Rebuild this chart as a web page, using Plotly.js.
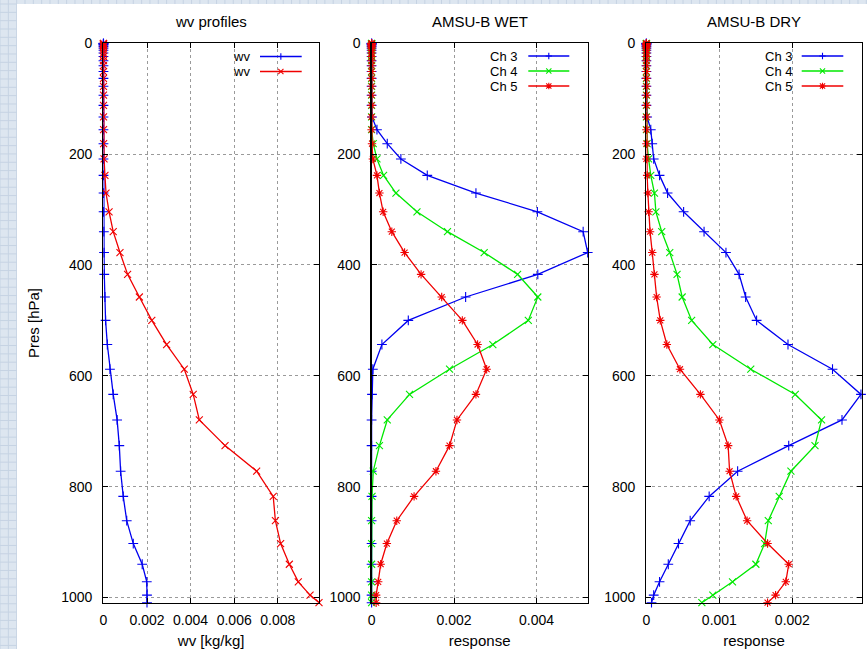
<!DOCTYPE html>
<html><head><meta charset="utf-8">
<script src="https://cdn.plot.ly/plotly-3.0.1.min.js"></script>
<style>html,body{margin:0;padding:0;background:#fff}#chart{width:867px;height:649px}</style>
</head><body><div id="chart"></div>
<script>
// pressure (layer mid-points, hPa)
const pressure = [0.2, 0.49, 1.06, 2.02, 3.51, 5.68, 8.66, 12.59, 17.61, 23.83, 31.39, 40.4, 51.01, 63.35, 77.58, 93.62, 112.05, 132.94, 155.9, 181.16, 208.65, 238.33, 270.16, 304.05, 339.89, 377.55, 416.88, 457.75, 500.0, 543.5, 588.07, 633.52, 679.58, 725.93, 772.11, 817.52, 861.38, 902.63, 939.95, 971.66, 995.66, 1009.34];

// panel 1: wv profiles [kg/kg]
const wvBlue = [0.000003, 0.000003, 0.000003, 0.000003, 0.000003, 0.000003, 0.000003, 0.000003, 0.000003, 0.000003, 0.000003, 0.000003, 0.000003, 0.000003, 0.000003, 0.000003, 0.000003, 0.000003, 0.000003, 0.000003, 0.000004, 0.000006, 0.000008, 0.00001, 0.00002, 0.00003, 0.00004, 0.00007, 0.0001, 0.00018, 0.0003, 0.00045, 0.00063, 0.00073, 0.00079, 0.00091, 0.00107, 0.00137, 0.00178, 0.00199, 0.002, 0.002];
const wvRed = [0.000003, 0.000003, 0.000003, 0.000003, 0.000003, 0.000003, 0.000003, 0.000003, 0.000003, 0.000003, 0.000003, 0.000003, 0.000003, 0.000003, 0.000003, 0.000004, 0.000005, 0.000006, 0.000008, 0.00001, 0.00003, 0.00007, 0.00012, 0.00026, 0.00045, 0.00076, 0.00111, 0.00165, 0.00222, 0.0029, 0.00371, 0.00412, 0.0044, 0.00558, 0.00703, 0.00779, 0.00789, 0.00813, 0.00853, 0.00894, 0.00948, 0.00989];

// panel 2: AMSU-B WET responses
const wetCh3 = [0, 0, 0, 0, 0, 0, 0, 0, 0, 0, 0, 0, 0, 0, 0, 0, 0, 0.00001, 0.00013, 0.00038, 0.00071, 0.00135, 0.00253, 0.00402, 0.00513, 0.00524, 0.00403, 0.00228, 0.00089, 0.00025, 0.00003, 0.00001, 0, 0, 0, 0, 0, 0, 0, 0, 0, 0];
const wetCh4 = [0, 0, 0, 0, 0, 0, 0, 0, 0, 0, 0, 0, 0, 0, 0, 0, 0, 0, 0, 0.00004, 0.00013, 0.00029, 0.00059, 0.0011, 0.00184, 0.00273, 0.00354, 0.00403, 0.0038, 0.00294, 0.00189, 0.00092, 0.00038, 0.00019, 0.00004, 0.00001, 0, 0, 0, 0, 0, 0];
const wetCh5 = [0, 0, 0, 0, 0, 0, 0, 0, 0, 0, 0, 0, 0, 0, 0, 0, 0, 0, 0, 0.00001, 0.00003, 0.00013, 0.00019, 0.00028, 0.00049, 0.0008, 0.0012, 0.0017, 0.0022, 0.00257, 0.00279, 0.00253, 0.00207, 0.00189, 0.00156, 0.00103, 0.00061, 0.00037, 0.00022, 0.00016, 0.00011, 0.00011];

// panel 3: AMSU-B DRY responses
const dryCh3 = [0, 0, 0, 0, 0, 0, 0, 0, 0, 0, 0, 0, 0, 0, 0, 0, 0, 0.00001, 0.00006, 0.00008, 0.0001, 0.00018, 0.00029, 0.00051, 0.00079, 0.00109, 0.00127, 0.00136, 0.00151, 0.00194, 0.00255, 0.00294, 0.00268, 0.00195, 0.00125, 0.00086, 0.0006, 0.00044, 0.0003, 0.00018, 0.0001, 0.00007];
const dryCh4 = [0, 0, 0, 0, 0, 0, 0, 0, 0, 0, 0, 0, 0, 0, 0, 0, 0, 0, 0, 0.00001, 0.00003, 0.00006, 0.00011, 0.00013, 0.00021, 0.00032, 0.00042, 0.00049, 0.00062, 0.00091, 0.00143, 0.00204, 0.0024, 0.00231, 0.00198, 0.00182, 0.00167, 0.00162, 0.0015, 0.00118, 0.00091, 0.00076];
const dryCh5 = [0, 0, 0, 0, 0, 0, 0, 0, 0, 0, 0, 0, 0, 0, 0, 0, 0, 0, 0, 0, 0, 0.00001, 0.00002, 0.00003, 0.00005, 0.00008, 0.00011, 0.00014, 0.00019, 0.00028, 0.00046, 0.00074, 0.001, 0.00112, 0.00114, 0.00123, 0.00138, 0.00166, 0.00195, 0.00191, 0.00177, 0.00166];

// tick labels
const xTicks1 = [0, 0.002, 0.004, 0.006, 0.008];
const xTickText1 = ['0', '0.002', '0.004', '0.006', '0.008'];
const xTicks2 = [0, 0.002, 0.004];
const xTickText2 = ['0', '0.002', '0.004'];
const xTicks3 = [0, 0.001, 0.002];
const xTickText3 = ['0', '0.001', '0.002'];
const yTicks = [0, 200, 400, 600, 800, 1000];
const yTickText = ['0', '200', '400', '600', '800', '1000'];

const W = 867, H = 649;
const px = x => x / W;
const py = y => 1 - y / H;
const FONT = 'Liberation Sans, Arial, Helvetica, sans-serif';
const BLUE = '#0000f0', GREEN = '#00e800', RED = '#f00000';

function tr(x, y, color, sym, xa, ya, name) {
  return {
    type: 'scatter', mode: 'lines+markers', x: x, y: y, name: name,
    xaxis: xa, yaxis: ya, cliponaxis: false, showlegend: false,
    line: {color: color, width: 1.3},
    marker: {symbol: sym, size: 7, color: color, line: {color: color, width: 1.1}}
  };
}

const data = [
  tr(wvBlue, pressure, BLUE, 'cross-thin-open', 'x', 'y', 'wv'),
  tr(wvRed, pressure, RED, 'x-thin-open', 'x', 'y', 'wv'),
  tr(wetCh3, pressure, BLUE, 'cross-thin-open', 'x2', 'y2', 'Ch 3'),
  tr(wetCh4, pressure, GREEN, 'x-thin-open', 'x2', 'y2', 'Ch 4'),
  tr(wetCh5, pressure, RED, 'asterisk-open', 'x2', 'y2', 'Ch 5'),
  tr(dryCh3, pressure, BLUE, 'cross-thin-open', 'x3', 'y3', 'Ch 3'),
  tr(dryCh4, pressure, GREEN, 'x-thin-open', 'x3', 'y3', 'Ch 4'),
  tr(dryCh5, pressure, RED, 'asterisk-open', 'x3', 'y3', 'Ch 5')
];

const plots = [
  {x0: 103.4, x1: 319.0, range: [0, 0.00989], tv: xTicks1, tt: xTickText1, title: 'wv profiles', xt: 'wv [kg/kg]'},
  {x0: 371.6, x1: 587.7, range: [0, 0.00524], tv: xTicks2, tt: xTickText2, title: 'AMSU-B WET', xt: 'response'},
  {x0: 646.4, x1: 861.7, range: [0, 0.00295], tv: xTicks3, tt: xTickText3, title: 'AMSU-B DRY', xt: 'response'}
];
const yTop = 43.3, yBot = 602.7;

const layout = {
  width: W, height: H,
  margin: {l: 0, r: 0, t: 0, b: 0},
  paper_bgcolor: '#dde6f0', plot_bgcolor: '#ffffff',
  font: {family: FONT, size: 14, color: '#000'},
  showlegend: false,
  shapes: [], annotations: []
};

// background checker strips
for (let k = 0; k * 8.33 < H; k++) {
  layout.shapes.push({type: 'line', xref: 'paper', yref: 'paper', layer: 'below',
    x0: 0, x1: px(17), y0: py(4 + 8.33 * k), y1: py(4 + 8.33 * k), line: {color: '#c6d3e3', width: 1}});
}
for (let k = 0; k * 8.33 < W; k++) {
  const xx = 8.33 * k;
  layout.shapes.push({type: 'line', xref: 'paper', yref: 'paper', layer: 'below',
    x0: px(xx), x1: px(xx), y0: xx < 17 ? 0 : py(4), y1: 1, line: {color: '#c6d3e3', width: 1}});
}
layout.shapes.push({type: 'rect', xref: 'paper', yref: 'paper', layer: 'below',
  x0: px(17), x1: 1, y0: 0, y1: py(4), line: {width: 0}, fillcolor: '#ffffff'});

plots.forEach((p, i) => {
  const n = i === 0 ? '' : String(i + 1);
  layout['xaxis' + n] = {
    domain: [px(p.x0), px(p.x1)], range: p.range, anchor: 'y' + n,
    tickmode: 'array', tickvals: p.tv, ticktext: p.tt,
    ticks: 'inside', ticklen: 5, tickcolor: '#000', mirror: 'ticks',
    showline: true, linecolor: '#000', linewidth: 1.2,
    showgrid: true, gridcolor: '#9a9a9a', griddash: 'dot', gridwidth: 1,
    zeroline: false, tickfont: {family: FONT, size: 14}, ticklabelstandoff: 4,
    title: {text: p.xt, font: {family: FONT, size: 15}, standoff: 8}
  };
  layout['yaxis' + n] = {
    domain: [py(yBot), py(yTop)], range: [1009.34, 0], anchor: 'x' + n,
    tickmode: 'array', tickvals: yTicks, ticktext: yTickText,
    ticks: 'inside', ticklen: 5, tickcolor: '#000', mirror: 'ticks',
    showline: true, linecolor: '#000', linewidth: 1.2,
    showgrid: true, gridcolor: '#9a9a9a', griddash: 'dot', gridwidth: 1,
    zeroline: false, tickfont: {family: FONT, size: 14}, ticklabelstandoff: 7
  };
  layout.annotations.push({xref: 'paper', yref: 'paper', x: px((p.x0 + p.x1) / 2), y: py(21.7),
    xanchor: 'center', yanchor: 'middle', showarrow: false, text: p.title, font: {family: FONT, size: 15}});
});
layout.yaxis.title = {text: 'Pres [hPa]', font: {family: FONT, size: 15}, standoff: 18};

// custom gnuplot-style legends (text left of sample)
function markPath(sym) {
  const s = 3.2, d = 2.6;
  if (sym === '+') return `M ${-s} 0 L ${s} 0 M 0 ${-s} L 0 ${s}`;
  if (sym === 'x') return `M ${-d} ${-d} L ${d} ${d} M ${-d} ${d} L ${d} ${-d}`;
  return `M ${-s} 0 L ${s} 0 M 0 ${-s} L 0 ${s} M ${-d} ${-d} L ${d} ${d} M ${-d} ${d} L ${d} ${-d}`;
}
function legendRow(label, textRight, l0, l1, yy, color, sym) {
  layout.annotations.push({xref: 'paper', yref: 'paper', x: px(textRight), y: py(yy),
    xanchor: 'right', yanchor: 'middle', showarrow: false, text: label,
    borderpad: 0, font: {family: FONT, size: 13}});
  layout.shapes.push({type: 'line', xref: 'paper', yref: 'paper', x0: px(l0), x1: px(l1), y0: py(yy), y1: py(yy),
    line: {color: color, width: 1.3}});
  layout.shapes.push({type: 'path', xref: 'paper', yref: 'paper', xsizemode: 'pixel', ysizemode: 'pixel',
    xanchor: px((l0 + l1) / 2), yanchor: py(yy), path: markPath(sym), line: {color: color, width: 1.1}});
}
legendRow('wv', 251, 260, 301.7, 56.5, BLUE, '+');
legendRow('wv', 251, 260, 301.7, 71.5, RED, 'x');
legendRow('Ch 3', 518.3, 528.3, 569.3, 56.0, BLUE, '+');
legendRow('Ch 4', 518.3, 528.3, 569.3, 71.0, GREEN, 'x');
legendRow('Ch 5', 518.3, 528.3, 569.3, 86.0, RED, '*');
legendRow('Ch 3', 792.7, 801.7, 843.3, 56.0, BLUE, '+');
legendRow('Ch 4', 792.7, 801.7, 843.3, 71.0, GREEN, 'x');
legendRow('Ch 5', 792.7, 801.7, 843.3, 86.0, RED, '*');

Plotly.newPlot('chart', data, layout, {displayModeBar: false, staticPlot: true});
</script>
</body></html>
